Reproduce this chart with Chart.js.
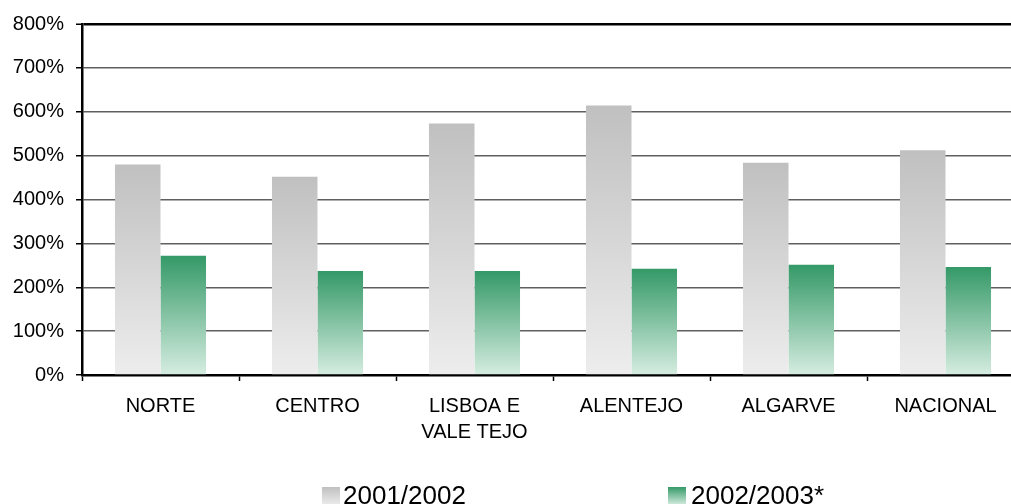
<!DOCTYPE html>
<html>
<head>
<meta charset="utf-8">
<script src="https://cdn.jsdelivr.net/npm/chart.js@4.4.1/dist/chart.umd.min.js"></script>
<style>
  html, body { margin: 0; padding: 0; background: #fff; overflow: hidden; width: 1011px; height: 504px; }
  #wrap { position: absolute; left: 0; top: 0; width: 1040px; height: 504px; }
  .leg { position: absolute; font-family: "Liberation Sans", Arial, sans-serif; font-size: 26px; color: #000; white-space: nowrap; line-height: 26px; }
  .box { position: absolute; width: 18px; height: 18px; }
</style>
</head>
<body>
<div id="wrap"><canvas id="c" width="1040" height="504"></canvas></div>
<div class="box" style="left:322px; top:487px; background: linear-gradient(#c0c0c0, #ececec);"></div>
<div class="leg" style="left:343px; top:482px;">2001/2002</div>
<div class="box" style="left:668px; top:487px; background: linear-gradient(#359a68, #d5ece0);"></div>
<div class="leg" style="left:691px; top:482px;">2002/2003*</div>
<script>
const categories = ['NORTE', 'CENTRO', ['LISBOA E', 'VALE TEJO'], 'ALENTEJO', 'ALGARVE', 'NACIONAL'];
const series2001 = [480, 452, 573, 614, 484, 512];
const series2002 = [272, 237, 237, 242, 251, 246];
const seriesNames = ['2001/2002', '2002/2003*'];
const yTicks = [0, 100, 200, 300, 400, 500, 600, 700, 800];

function gradientFill(top, bottom) {
  return function (ctx) {
    const chart = ctx.chart;
    const area = chart.chartArea;
    if (!area || ctx.type !== 'data') return top;
    const y = chart.scales.y;
    const yTop = y.getPixelForValue(ctx.raw);
    const yBot = y.getPixelForValue(0);
    if (!isFinite(yTop) || yTop === yBot) return top;
    const g = chart.ctx.createLinearGradient(0, yTop, 0, yBot);
    g.addColorStop(0, top);
    g.addColorStop(1, bottom);
    return g;
  };
}

const font = { family: '"Liberation Sans", Arial, sans-serif', size: 20 };

new Chart(document.getElementById('c'), {
  type: 'bar',
  data: {
    labels: categories,
    datasets: [
      { label: seriesNames[0], data: series2001, backgroundColor: gradientFill('#c0c0c0', '#ededed'), borderWidth: 0, categoryPercentage: 0.58, barPercentage: 1.0 },
      { label: seriesNames[1], data: series2002, backgroundColor: gradientFill('#349967', '#d6ede1'), borderWidth: 0, categoryPercentage: 0.58, barPercentage: 1.0 }
    ]
  },
  options: {
    responsive: false,
    animation: false,
    devicePixelRatio: 1,
    layout: { padding: { left: 0, right: 16, top: 24, bottom: 0 } },
    plugins: { legend: { display: false }, tooltip: { enabled: false } },
    scales: {
      x: {
        grid: { drawOnChartArea: false, drawTicks: true, tickLength: 6, tickColor: '#000', tickWidth: 1.5, offset: true },
        border: { color: '#000', width: 2.5 },
        ticks: { font: Object.assign({ lineHeight: 1.3 }, font), color: '#000', padding: 12, maxRotation: 0, autoSkip: false },
        afterFit: s => { s.height = 129; }
      },
      y: {
        min: 0, max: 800,
        afterBuildTicks: s => { s.ticks = yTicks.map(v => ({ value: v })); },
        grid: {
          color: c => (c.tick && c.tick.value === 800) ? '#000' : '#606060',
          lineWidth: c => (c.tick && c.tick.value === 800) ? 2.5 : 1.5,
          tickLength: 6, tickColor: '#000', tickWidth: 1.5
        },
        border: { color: '#000', width: 2.5 },
        ticks: { font: font, color: '#000', padding: 12, callback: v => v + '%' },
        afterFit: s => { s.width = 82; }
      }
    }
  }
});
</script>
</body>
</html>
